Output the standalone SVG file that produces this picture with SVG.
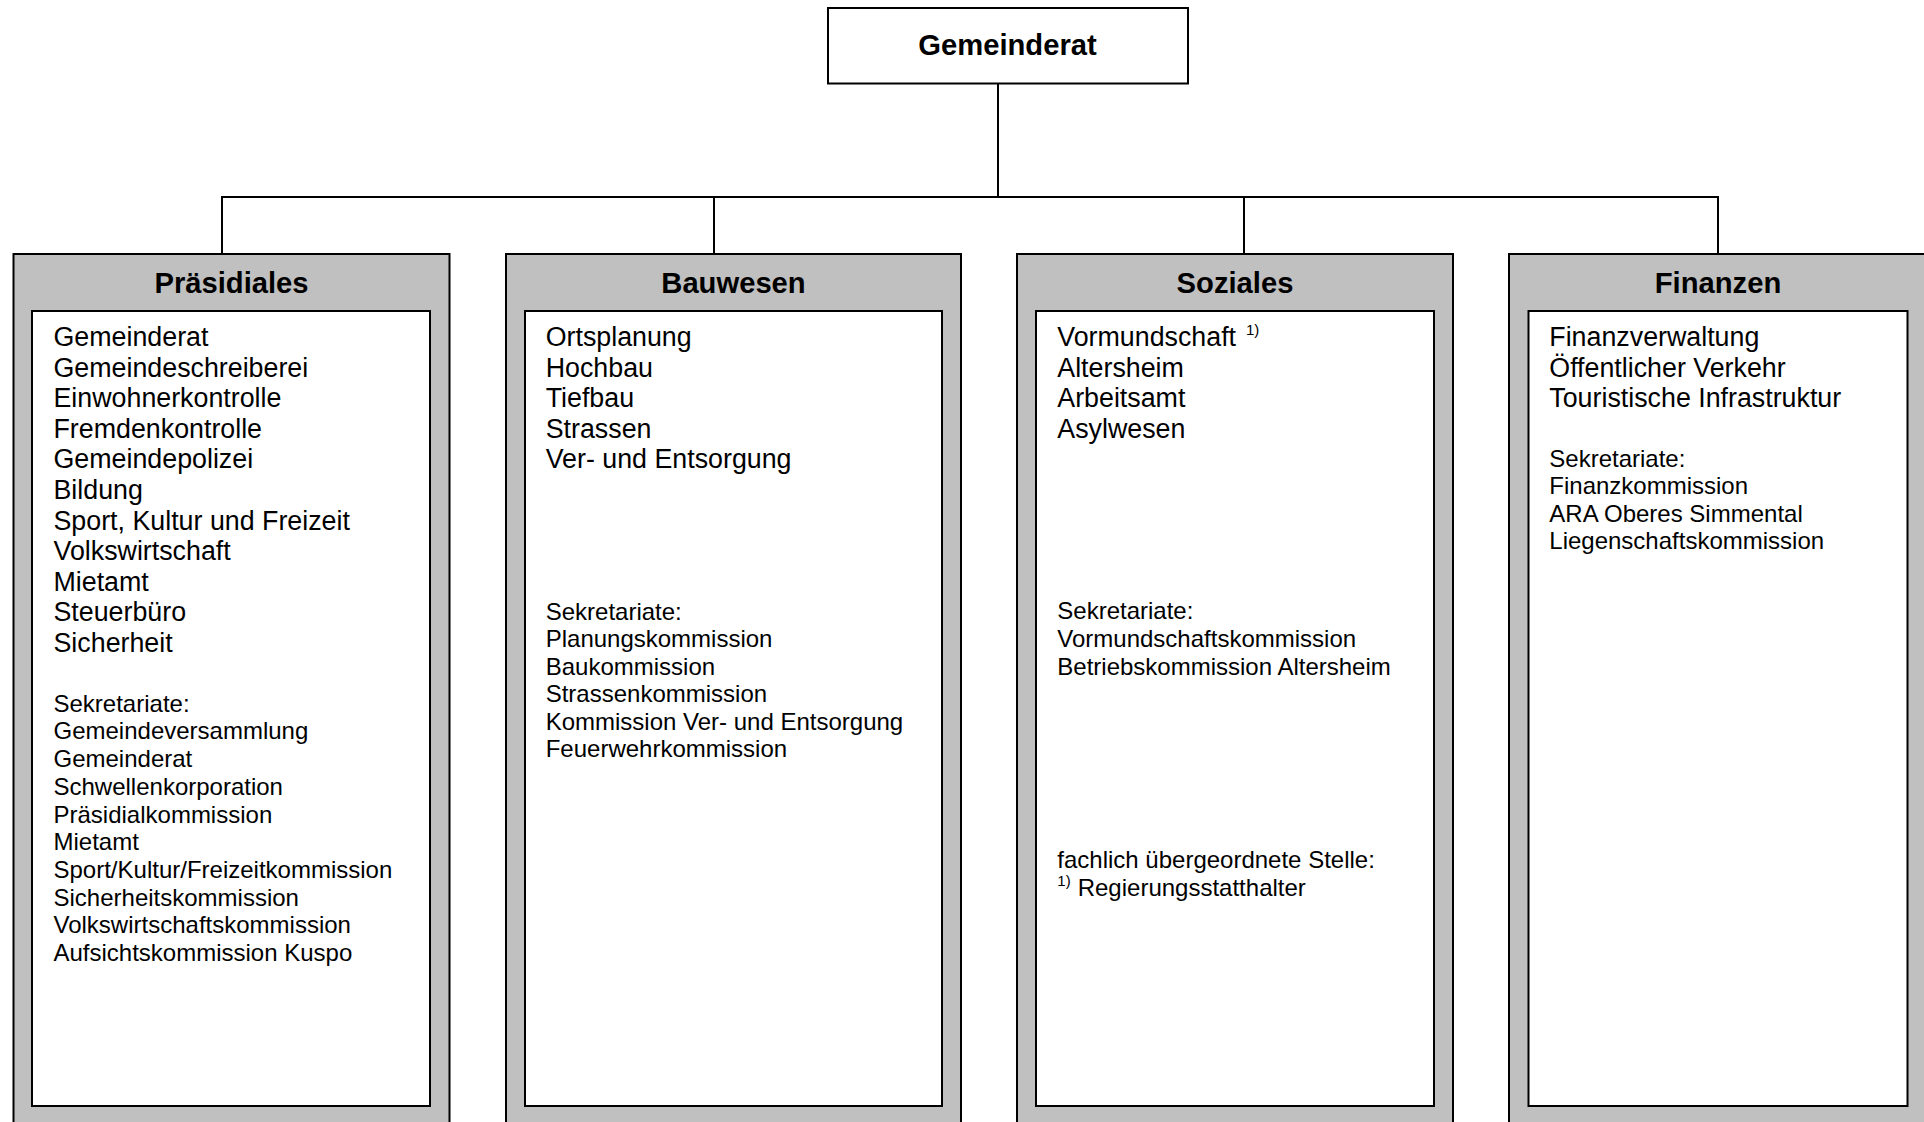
<svg xmlns="http://www.w3.org/2000/svg" width="1924" height="1122" viewBox="0 0 1924 1122">
<style>
.outer{fill:#c0c0c0;stroke:#000;stroke-width:2}
.inner{fill:#fff;stroke:#000;stroke-width:2}
.top{fill:#fff;stroke:#000;stroke-width:2}
.conn{fill:none;stroke:#000;stroke-width:2}
.title{font-family:"Liberation Sans",Arial,sans-serif;font-weight:bold;font-size:29.2px;text-anchor:middle;fill:#000}
.main{font-family:"Liberation Sans",Arial,sans-serif;font-size:26.8px;fill:#000}
.small{font-family:"Liberation Sans",Arial,sans-serif;font-size:24px;fill:#000}
.sup{font-family:"Liberation Sans",Arial,sans-serif;font-size:15px;fill:#000}
</style>
<rect width="1924" height="1122" fill="#fff"/>
<g id="connectors">
<line class="conn" x1="998" y1="84" x2="998" y2="197"/>
<line class="conn" x1="221" y1="197" x2="1719" y2="197"/>
<line class="conn" x1="222" y1="197" x2="222" y2="254"/>
<line class="conn" x1="714" y1="197" x2="714" y2="254"/>
<line class="conn" x1="1244" y1="197" x2="1244" y2="254"/>
<line class="conn" x1="1718" y1="197" x2="1718" y2="254"/>
</g>
<g id="gemeinderat">
<rect class="top" x="828" y="8" width="360" height="75.5"/>
<text class="title" x="1007.5" y="54.5">Gemeinderat</text>
</g>
<g id="praesidiales">
<rect class="outer" x="13.5" y="254" width="436" height="880"/>
<rect class="inner" x="32" y="311" width="398" height="795"/>
<text class="title" x="231.5" y="293">Präsidiales</text>
<text class="main" x="53.5" y="346">Gemeinderat</text>
<text class="main" x="53.5" y="376.6">Gemeindeschreiberei</text>
<text class="main" x="53.5" y="407.2">Einwohnerkontrolle</text>
<text class="main" x="53.5" y="437.8">Fremdenkontrolle</text>
<text class="main" x="53.5" y="468.4">Gemeindepolizei</text>
<text class="main" x="53.5" y="499">Bildung</text>
<text class="main" x="53.5" y="529.6">Sport, Kultur und Freizeit</text>
<text class="main" x="53.5" y="560.2">Volkswirtschaft</text>
<text class="main" x="53.5" y="590.8">Mietamt</text>
<text class="main" x="53.5" y="621.4">Steuerbüro</text>
<text class="main" x="53.5" y="652">Sicherheit</text>
<text class="small" x="53.5" y="711.7">Sekretariate:</text>
<text class="small" x="53.5" y="739.4">Gemeindeversammlung</text>
<text class="small" x="53.5" y="767.1">Gemeinderat</text>
<text class="small" x="53.5" y="794.8">Schwellenkorporation</text>
<text class="small" x="53.5" y="822.5">Präsidialkommission</text>
<text class="small" x="53.5" y="850.2">Mietamt</text>
<text class="small" x="53.5" y="877.9">Sport/Kultur/Freizeitkommission</text>
<text class="small" x="53.5" y="905.6">Sicherheitskommission</text>
<text class="small" x="53.5" y="933.3">Volkswirtschaftskommission</text>
<text class="small" x="53.5" y="961">Aufsichtskommission Kuspo</text>
</g>
<g id="bauwesen">
<rect class="outer" x="506" y="254" width="455" height="880"/>
<rect class="inner" x="525" y="311" width="417" height="795"/>
<text class="title" x="733.5" y="293">Bauwesen</text>
<text class="main" x="545.7" y="346">Ortsplanung</text>
<text class="main" x="545.7" y="376.6">Hochbau</text>
<text class="main" x="545.7" y="407.2">Tiefbau</text>
<text class="main" x="545.7" y="437.8">Strassen</text>
<text class="main" x="545.7" y="468.4">Ver- und Entsorgung</text>
<text class="small" x="545.7" y="619.5">Sekretariate:</text>
<text class="small" x="545.7" y="647">Planungskommission</text>
<text class="small" x="545.7" y="674.5">Baukommission</text>
<text class="small" x="545.7" y="702">Strassenkommission</text>
<text class="small" x="545.7" y="729.5">Kommission Ver- und Entsorgung</text>
<text class="small" x="545.7" y="757">Feuerwehrkommission</text>
</g>
<g id="soziales">
<rect class="outer" x="1017" y="254" width="436" height="880"/>
<rect class="inner" x="1036" y="311" width="398" height="795"/>
<text class="title" x="1235" y="293">Soziales</text>
<text class="main" x="1057.3" y="346">Vormundschaft</text>
<text class="sup" x="1246" y="334.5">1)</text>
<text class="main" x="1057.3" y="376.6">Altersheim</text>
<text class="main" x="1057.3" y="407.2">Arbeitsamt</text>
<text class="main" x="1057.3" y="437.8">Asylwesen</text>
<text class="small" x="1057.3" y="619.3">Sekretariate:</text>
<text class="small" x="1057.3" y="647">Vormundschaftskommission</text>
<text class="small" x="1057.3" y="674.5">Betriebskommission Altersheim</text>
<text class="small" x="1057.3" y="868.3">fachlich übergeordnete Stelle:</text>
<text class="sup" x="1057.3" y="886">1)</text>
<text class="small" x="1077.7" y="896">Regierungsstatthalter</text>
</g>
<g id="finanzen">
<rect class="outer" x="1509" y="254" width="418" height="880"/>
<rect class="inner" x="1528.5" y="311" width="379" height="795"/>
<text class="title" x="1718" y="293">Finanzen</text>
<text class="main" x="1549.3" y="346">Finanzverwaltung</text>
<text class="main" x="1549.3" y="376.6">Öffentlicher Verkehr</text>
<text class="main" x="1549.3" y="407.2">Touristische Infrastruktur</text>
<text class="small" x="1549.3" y="466.7">Sekretariate:</text>
<text class="small" x="1549.3" y="494.2">Finanzkommission</text>
<text class="small" x="1549.3" y="521.7">ARA Oberes Simmental</text>
<text class="small" x="1549.3" y="549.2">Liegenschaftskommission</text>
</g>
</svg>
